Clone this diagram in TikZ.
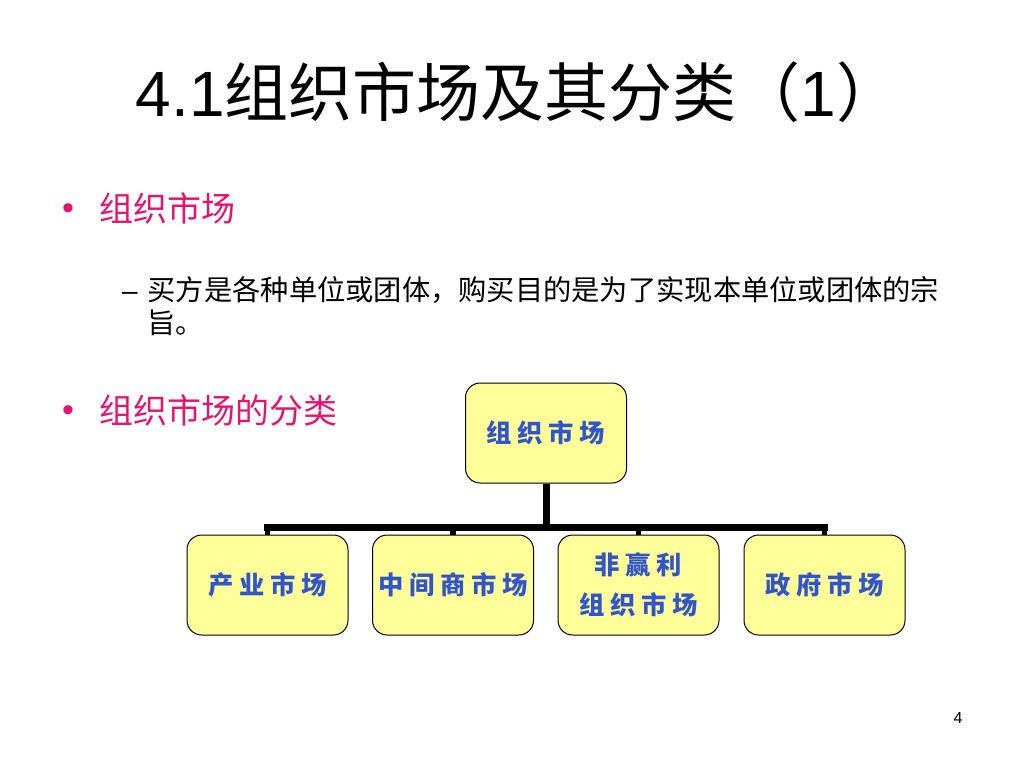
\documentclass[tikz,border=0pt]{standalone}
\usepackage{fontspec}
\setmainfont{Liberation Sans}
\newfontfamily\cjk{Noto Sans CJK SC}
\newfontfamily\boxcjk[LetterSpace=22]{Noto Sans CJK SC}
\definecolor{bulletpink}{RGB}{230,20,110}
\definecolor{boxyellow}{RGB}{255,255,153}
\definecolor{boxblue}{RGB}{51,85,204}
\tikzset{
  unitbox/.style={draw=black, line width=0.75pt, rounded corners=11pt, fill=boxyellow,
    minimum width=120.75pt, minimum height=75pt, align=center, text=boxblue,
    font=\boxcjk\bfseries\fontsize{19}{30}\selectfont},
  bigtext/.style={anchor=base west, font=\cjk\fontsize{25.5}{30}\selectfont},
  subtext/.style={anchor=base west, font=\cjk\fontsize{21.2}{25}\selectfont},
}
\begin{document}
\begin{tikzpicture}[x=0.75pt, y=-0.75pt]
    \useasboundingbox (0,0) rectangle (1024,768);

    % Titel
    \node[anchor=base, font=\fontsize{48}{56}\selectfont] (title) at (518,116)
        {4.1{\cjk 组织市场及其分类（}1{\cjk ）}};

    % Stichpunkte
    \node[anchor=base, text=bulletpink, font=\fontsize{25.5}{30}\selectfont] (dot1) at (68,219) {•};
    \node[bigtext, text=bulletpink] (item1) at (95,221) {组织市场};
    \node[anchor=base, font=\fontsize{21}{25}\selectfont] (dash) at (130,300) {–};
    \node[subtext] (sub1) at (143,300) {买方是各种单位或团体，购买目的是为了实现本单位或团体的宗};
    \node[subtext] (sub2) at (143,333) {旨。};
    \node[anchor=base, text=bulletpink, font=\fontsize{25.5}{30}\selectfont] (dot2) at (68,421) {•};
    \node[bigtext, text=bulletpink] (item2) at (95,423) {组织市场的分类};

    % Organigramm
    \node[unitbox] (root) at (546,433) {组织市场};
    \node[unitbox] (ind) at (267.5,585) {产业市场};
    \node[unitbox] (mid) at (453,585) {中间商市场};
    \node[unitbox] (npo) at (638.5,585) {非赢利\\组织市场};
    \node[unitbox] (gov) at (824.5,585) {政府市场};

    \coordinate (bar) at (546,527);
    \draw[line width=5.25pt] (root.south) -- (root.south |- bar);
    \draw[line width=5.25pt, line cap=rect] (ind.north |- bar) -- (gov.north |- bar);
    \foreach \c in {ind,mid,npo,gov}
        \draw[line width=4pt] (\c.north |- bar) -- (\c.north);

    % Seitenzahl
    \node[font=\fontsize{12}{14}\selectfont] (page) at (958,718) {4};
\end{tikzpicture}
\end{document}
